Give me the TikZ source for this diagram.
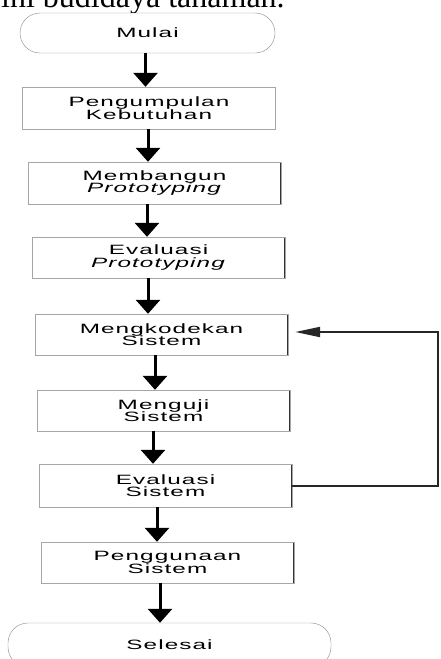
\documentclass[tikz,border=0pt]{standalone}
\usepackage{fontspec}
\setmainfont{Liberation Serif}
\newfontfamily\kotakfont[FakeStretch=1.8,LetterSpace=8]{Liberation Sans}
\usepackage{tikz}
\usetikzlibrary{arrows.meta}

\tikzset{
  kotak/.style={draw=black!35,fill=white,minimum width=253pt,minimum height=42pt,inner sep=0pt,
    align=center,text=black,font=\kotakfont\fontsize{13.5}{12.6}\selectfont,
    path picture={\draw[black!80,line width=1.6pt]
      (path picture bounding box.north west)--(path picture bounding box.south west)
      (path picture bounding box.north east)--(path picture bounding box.south east);}},
  terminal/.style={draw=black!45,fill=white,rounded corners=20pt,minimum height=40pt,inner sep=0pt,
    text=black,font=\kotakfont\fontsize{13.5}{12.6}\selectfont},
  panah/.style={line width=3pt,-{Triangle[length=14pt,width=24pt]}},
  balik/.style={line width=2pt,black!85,-{Triangle[length=25pt,width=10pt]}}
}

\begin{document}
\begin{tikzpicture}[x=1pt,y=-1pt]
  \clip (0,0) rectangle (441,659);
  \useasboundingbox (0,0) rectangle (441,659);
  \node[anchor=base west,inner sep=0pt,font=\fontsize{32}{32}\selectfont] (paragraf) at (1,7) {ini budidaya tanaman.};
  \node[terminal,minimum width=255pt] (mulai) at (147.5,33) {Mulai};
  \node[kotak] (kebutuhan) at (149,108) {Pengumpulan\\Kebutuhan};
  \node[kotak] (membangun) at (154.5,183) {Membangun\\\textit{Prototyping}};
  \node[kotak,minimum height=41pt] (evproto) at (158.5,257.5) {Evaluasi\\\textit{Prototyping}};
  \node[kotak,minimum height=41pt] (kode) at (161.5,334.5) {Mengkodekan\\Sistem};
  \node[kotak,minimum height=41pt] (uji) at (163.5,410.5) {Menguji\\Sistem};
  \node[kotak,minimum height=43pt] (evsistem) at (165.5,485.5) {Evaluasi\\Sistem};
  \node[kotak,minimum height=41pt] (guna) at (167.5,562.5) {Penggunaan\\Sistem};
  \node[terminal,minimum width=323pt,minimum height=44pt] (selesai) at (169.5,645) {Selesai};
  \foreach \a/\b/\dx in {mulai/kebutuhan/-2,kebutuhan/membangun/-1,membangun/evproto/-7.5,
      evproto/kode/-10.5,kode/uji/-6.5,uji/evsistem/-10.5,evsistem/guna/-8.5,guna/selesai/-7.5}
    \draw[panah] ([xshift=\dx pt]\a.south) -- ([xshift=\dx pt]\a.south |- \b.north);
  % kembali ke pengkodean
  \draw[balik] (evsistem.east) -- ++(146,0) |- ([xshift=7pt,yshift=2.5pt]kode.east);
\end{tikzpicture}
\end{document}
